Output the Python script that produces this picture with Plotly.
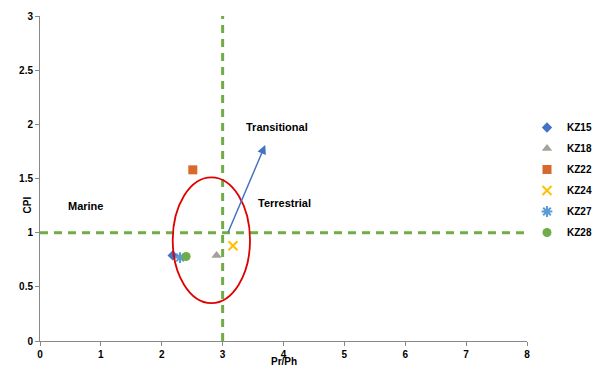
import plotly.graph_objects as go

samples = ["KZ15", "KZ18", "KZ22", "KZ24", "KZ27", "KZ28"]
pr_ph = [2.18, 2.90, 2.51, 3.17, 2.30, 2.40]
cpi = [0.79, 0.79, 1.58, 0.88, 0.77, 0.78]
symbols = ["diamond", "triangle-up", "square", "x-thin-open", "asterisk-open", "circle"]
colors = ["#4472C4", "#A5A09A", "#D9692A", "#FFC000", "#5B9BD5", "#70AD47"]
sizes = [8, 9, 9, 9, 9, 9]

x_ticks = [0, 1, 2, 3, 4, 5, 6, 7, 8]
y_ticks = [0, 0.5, 1, 1.5, 2, 2.5, 3]
y_tick_labels = ["0", "0.5", "1", "1.5", "2", "2.5", "3"]

fig = go.Figure()
for s, x, y, sym, c, sz in zip(samples, pr_ph, cpi, symbols, colors, sizes):
    lw = 2 if sym in ("x-thin-open", "asterisk-open") else 0
    fig.add_trace(go.Scatter(
        x=[x], y=[y], mode="markers", name=s, legendgroup=s,
        marker=dict(symbol=sym, color=c, size=sz, line=dict(color=c, width=lw)),
    ))

green = "#70AD47"
fig.add_shape(type="line", x0=3, x1=3, y0=0, y1=3, xref="x", yref="y",
              line=dict(color=green, width=3, dash="8px,6px"))
fig.add_shape(type="line", x0=0, x1=8.08, y0=1, y1=1, xref="x", yref="y",
              line=dict(color=green, width=3, dash="8px,6px"))
fig.add_shape(type="circle", x0=2.18, x1=3.45, y0=0.35, y1=1.51, xref="x", yref="y",
              line=dict(color="#E00000", width=1.8))
fig.add_annotation(x=3.70, y=1.81, ax=3.08, ay=0.99, xref="x", yref="y", axref="x", ayref="y",
                   showarrow=True, arrowhead=2, arrowsize=1.2, arrowwidth=1.5,
                   arrowcolor="#4472C4", text="")

lab_font = dict(family="Liberation Sans", size=11, color="#000000")
fig.add_annotation(x=0.74, y=1.25, text="<b>Marine</b>", showarrow=False, font=lab_font, xref="x", yref="y")
fig.add_annotation(x=3.89, y=1.98, text="<b>Transitional</b>", showarrow=False, font=lab_font, xref="x", yref="y")
fig.add_annotation(x=4.02, y=1.27, text="<b>Terrestrial</b>", showarrow=False, font=lab_font, xref="x", yref="y")

# page has an 8px body margin: figure is 593x361 drawn at (8, 8)
W, H = 593, 361
L, T, B = 32, 8, 28
PLOT_W = W - L
PLOT_H = H - T - B
fig.add_annotation(x=0, xshift=-21, y=(PLOT_H - (205 - 8 - T)) / PLOT_H, xref="paper", yref="paper",
                   text="<b>CPI</b>", showarrow=False, textangle=-90,
                   font=dict(family="Liberation Sans", size=10, color="#000"))
fig.add_annotation(x=243.5 / PLOT_W, y=-20 / PLOT_H, xref="paper", yref="paper",
                   text="<b>Pr/Ph</b>", showarrow=False, yanchor="middle",
                   font=dict(family="Liberation Sans", size=10, color="#000"))

axis_common = dict(showgrid=False, zeroline=False, showline=True, linecolor="#888888", linewidth=1,
                   ticks="outside", ticklen=4, tickcolor="#888888", automargin=False,
                   tickfont=dict(family="Liberation Sans", size=10, color="#000", weight="bold"))
fig.update_xaxes(range=[0, 8], tickvals=x_ticks, domain=[0, 487 / PLOT_W], **axis_common)
fig.update_yaxes(range=[0, 3], tickvals=y_ticks, ticktext=y_tick_labels, **axis_common)

fig.update_layout(
    width=W, height=H,
    margin=dict(l=L, r=0, t=T, b=B, autoexpand=False),
    plot_bgcolor="white", paper_bgcolor="white",
    legend=dict(x=(519 - L) / PLOT_W, y=(PLOT_H - (105 - T)) / PLOT_H, xanchor="left", yanchor="top",
                font=dict(family="Liberation Sans", size=10, color="#000", weight="bold"),
                tracegroupgap=2, itemwidth=30, bgcolor="rgba(0,0,0,0)"),
)
fig.write_html("out.html")
